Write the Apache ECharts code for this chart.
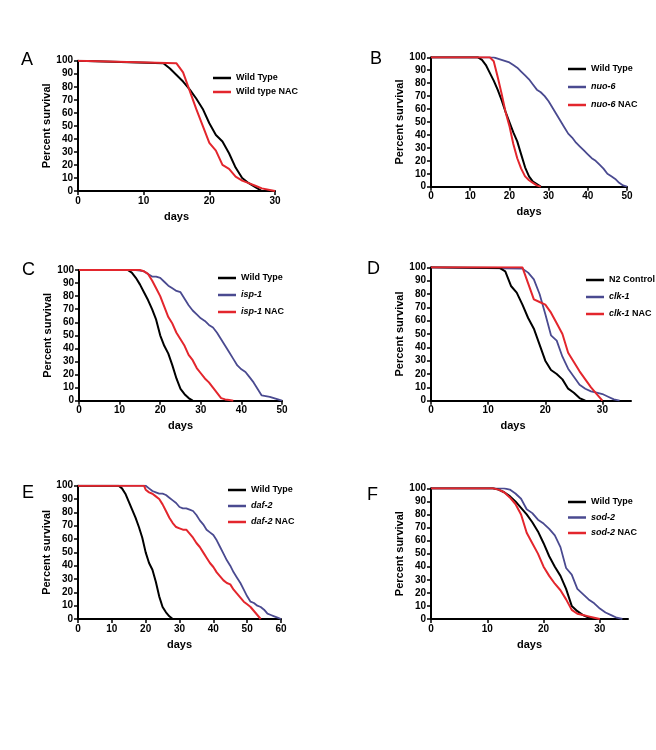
<!DOCTYPE html>
<html>
<head>
<meta charset="utf-8">
<script src="https://cdn.jsdelivr.net/npm/echarts@6/dist/echarts.min.js"></script>
<style>
html,body{margin:0;padding:0;background:#fff;}
#chart{width:656px;height:750px;}
</style>
</head>
<body>
<div id="chart"></div>
<script>
// ---------- DATA ----------
const yTicks = [0,10,20,30,40,50,60,70,80,90,100];
const panelLetters = ['A','B','C','D','E','F'];
const xMax = [30, 50, 50, 35, 60, 35];

// Panel A
const A_wt_days = [0,13,14,15,16,17,18,19,20,21,22,23,24,25,26,27,28];
const A_wt      = [100,98,94,89,84,78,71,63,52,43,38,29,18,10,6,3,0];
const A_nac_days = [0,15,16,17,18,19,20,21,22,23,24,25,26,27,28,29,30];
const A_nac      = [100,98,91,77,63,50,37,31,20,17,11,8,6,4,2,1,0];

// Panel B
const B_wt_days = [0,12,13,14,15,16,17,18,19,20,21,22,23,24,25,26,27,28];
const B_wt      = [100,100,98,94,88,82,75,67,58,50,42,35,25,15,8,4,2,0];
const B_mut_days = [0,16,18,20,21,22,23,24,25,26,27,28,29,30,31,32,33,34,35,36,37,38,39,40,41,42,43,44,45,46,47,48,49,50];
const B_mut      = [100,100,98,96,94,92,89,86,83,79,75,73,70,66,61,56,51,46,41,38,34,31,28,25,22,20,17,14,10,8,6,3,1,0];
const B_nac_days = [0,15,16,17,18,19,20,21,22,23,24,25,26,27,28];
const B_nac      = [100,100,97,85,72,58,47,33,22,14,8,5,3,1,0];

// Panel C
const C_wt_days = [0,12,13,14,15,16,17,18,19,20,21,22,23,24,25,26,27,28];
const C_wt      = [100,100,98,94,89,83,77,70,62,50,42,36,27,17,9,5,2,0];
const C_mut_days = [0,14,15,16,17,18,19,20,21,22,23,24,25,26,27,28,29,30,31,32,33,34,35,36,37,38,39,40,41,42,43,44,45,46,47,48,49,50];
const C_mut      = [100,100,99.5,99,97,95,95,94,91,88,86,84,83,78,73,69,66,63,61,58,56,52,47,42,37,32,27,24,22,18,14,9,4,3.5,3,2,1,0];
const C_nac_days = [0,15,16,17,18,19,20,21,22,23,24,25,26,27,28,29,30,31,32,33,34,35,36,37,38];
const C_nac      = [100,100,99,97,92,86,80,72,64,59,52,47,42,35,31,25,21,17,14,10,6,2,1,0.5,0];

// Panel D
const D_wt_days = [0,12,13,14,15,16,17,18,19,20,21,22,23,24,25,26,27];
const D_wt      = [100,99.5,97,86,81,72,62,54,42,30,23,20,16,9,6,2,0];
const D_mut_days = [0,16,17,18,19,20,21,22,23,24,25,26,27,28,29,30,31,32,33];
const D_mut      = [100,99,96,91,80,65,49,45,33,24,18,12,9,7,6,5,3,1,0];
const D_nac_days = [0,16,17,18,19,20,21,22,23,24,25,26,27,28,29,30];
const D_nac      = [100,100,88,76,74,72,66,58,50,36,29,22,16,10,5,0];

// Panel E
const E_wt_days = [0,12,13,14,15,16,17,18,19,20,21,22,23,24,25,26,27,28];
const E_wt      = [100,100,98,94,88,82,76,69,61,50,42,37,28,17,9,5,2,0];
const E_mut_days = [0,20,21,22,23,24,25,26,27,28,29,30,31,32,33,34,35,36,37,38,39,40,41,42,43,44,45,46,47,48,49,50,51,52,53,54,55,56,57,58,59,60];
const E_mut      = [100,100,98,96,95,94,94,93,91,89,87,84,83,83,82,81,78,74,71,67,65,63,59,54,49,44,40,35,31,27,22,17,13,12,10,9,7,4,3,2,1,0];
const E_nac_days = [0,19.5,20,21,22,23,24,25,26,27,28,29,30,31,32,33,34,35,36,37,38,39,40,41,42,43,44,45,46,47,48,49,50,51,52,53,54];
const E_nac      = [100,100,97,95,94,92,90,86,81,76,72,69,68,67,67,64,61,57,54,50,46,42,39,35,32,29,27,26,22,19,16,13,11,9,6,3,0];

// Panel F
const F_wt_days = [0,11,12,13,14,15,16,17,18,19,20,21,22,23,24,25,26,27,28,29];
const F_wt      = [100,100,99,97,94,90,85,80,74,67,58,48,40,33,23,10,6,3,1,0];
const F_mut_days = [0,13,14,15,16,17,18,19,20,21,22,23,24,25,26,27,28,29,30,31,32,33,34];
const F_mut      = [100,100,99,96,92,84,81,76,73,69,64,55,39,34,23,19,15,12,8,5,3,1,0];
const F_nac_days = [0,11,12,13,14,15,16,17,18,19,20,21,22,23,24,25,26,27,28,29,30];
const F_nac      = [100,100,99,97,93,88,80,66,58,50,40,33,27,22,15,7,4,3,2,1,0];

// ---------- STYLE / LAYOUT ----------
const FONT = '"Liberation Sans", Arial, Helvetica, sans-serif';
const BLACK = '#000000', BLUE = '#4a4a90', RED = '#e3262d';

const grids = [
  {left:78,  top:60.7,  width:197, height:130.3},
  {left:431, top:57.3,  width:196, height:129.4},
  {left:79,  top:270,   width:203, height:130.7},
  {left:431, top:267.3, width:200, height:133.4},
  {left:78,  top:485.7, width:203, height:133.3},
  {left:431, top:488.3, width:197, height:130.7}
];
const letterPos = [[21,51],[370,50],[22,261],[367,260],[22,484],[367,486]];
const legendPos = [
  {left:208, top:67,  gap:2},
  {left:563, top:58,  gap:6},
  {left:213, top:267, gap:5},
  {left:581, top:269, gap:5},
  {left:223, top:479, gap:4},
  {left:563, top:491, gap:3.5}
];
const daysPadding = [[0,0,0,0],[0,0,0,0],[0,0,0,0],[0,36,0,0],[0,0,0,0],[0,0,0,0]];

const panels = [
  [['Wild Type', A_wt_days, A_wt, BLACK], ['Wild type NAC', A_nac_days, A_nac, RED]],
  [['Wild Type', B_wt_days, B_wt, BLACK], ['nuo-6', B_mut_days, B_mut, BLUE], ['nuo-6 NAC', B_nac_days, B_nac, RED]],
  [['Wild Type', C_wt_days, C_wt, BLACK], ['isp-1', C_mut_days, C_mut, BLUE], ['isp-1 NAC', C_nac_days, C_nac, RED]],
  [['N2 Control', D_wt_days, D_wt, BLACK], ['clk-1', D_mut_days, D_mut, BLUE], ['clk-1 NAC', D_nac_days, D_nac, RED]],
  [['Wild Type', E_wt_days, E_wt, BLACK], ['daf-2', E_mut_days, E_mut, BLUE], ['daf-2 NAC', E_nac_days, E_nac, RED]],
  [['Wild Type', F_wt_days, F_wt, BLACK], ['sod-2', F_mut_days, F_mut, BLUE], ['sod-2 NAC', F_nac_days, F_nac, RED]]
];

function legendLabel(name){
  const m = name.match(/^([a-z]+-\d)( NAC)?$/);
  if (m) return '{i|' + m[1] + '}' + (m[2] ? '{n|' + m[2] + '}' : '');
  return '{n|' + name + '}';
}

const xAxes = [], yAxes = [], series = [], legends = [], titles = [];
panels.forEach((p, k) => {
  const ticks = [];
  for (let v = 0; v <= xMax[k]; v += 10) ticks.push(v);
  xAxes.push({
    type:'value', gridIndex:k, min:0, max:xMax[k], interval:10,
    name:'days', nameLocation:'middle', nameGap:20,
    nameTextStyle:{fontFamily:FONT, fontWeight:'bold', fontSize:11, color:'#000', padding:daysPadding[k]},
    axisLine:{show:true, onZero:false, lineStyle:{color:'#000', width:2}},
    axisTick:{show:true, length:4, lineStyle:{color:'#000', width:1.5}, customValues:ticks},
    axisLabel:{fontFamily:FONT, fontWeight:'bold', fontSize:10, color:'#000', margin:5, customValues:ticks},
    splitLine:{show:false}
  });
  yAxes.push({
    type:'value', gridIndex:k, min:0, max:100, interval:10,
    name:'Percent survival', nameLocation:'middle', nameGap:26,
    nameTextStyle:{fontFamily:FONT, fontWeight:'bold', fontSize:11, color:'#000'},
    axisLine:{show:true, onZero:false, lineStyle:{color:'#000', width:2}},
    axisTick:{show:true, length:4, lineStyle:{color:'#000', width:1.5}},
    axisLabel:{fontFamily:FONT, fontWeight:'bold', fontSize:10, color:'#000', margin:5, customValues:yTicks},
    splitLine:{show:false}
  });
  p.forEach(([name, days, vals, color]) => {
    series.push({
      type:'line', name:name, xAxisIndex:k, yAxisIndex:k,
      data: days.map((d, i) => [d, vals[i]]),
      symbol:'none', showSymbol:false, smooth:false,
      lineStyle:{color:color, width: color === BLUE ? 1.8 : 2},
      itemStyle:{color:color},
      z: color === BLUE ? 2 : (color === RED ? 4 : 3)
    });
  });
  legends.push({
    orient:'vertical', left:legendPos[k].left, top:legendPos[k].top,
    itemGap:legendPos[k].gap, itemWidth:18, itemHeight:2.5, icon:'rect',
    selectedMode:false,
    data: p.map(s => ({name:s[0], itemStyle:{color:s[3]}})),
    formatter: legendLabel,
    textStyle:{fontFamily:FONT, fontWeight:'bold', fontSize:9, color:'#000', lineHeight:12,
      rich:{
        i:{fontFamily:FONT, fontWeight:'bold', fontStyle:'italic', fontSize:9, color:'#000', lineHeight:12},
        n:{fontFamily:FONT, fontWeight:'bold', fontSize:9, color:'#000', lineHeight:12}
      }}
  });
  titles.push({
    text:panelLetters[k], left:letterPos[k][0], top:letterPos[k][1], padding:0,
    textStyle:{fontFamily:FONT, fontWeight:'normal', fontSize:18, color:'#000'}
  });
});

const chart = echarts.init(document.getElementById('chart'), null, {renderer:'canvas'});
chart.setOption({
  animation:false,
  backgroundColor:'#ffffff',
  title: titles,
  grid: grids,
  xAxis: xAxes,
  yAxis: yAxes,
  legend: legends,
  series: series
});
</script>
</body>
</html>
